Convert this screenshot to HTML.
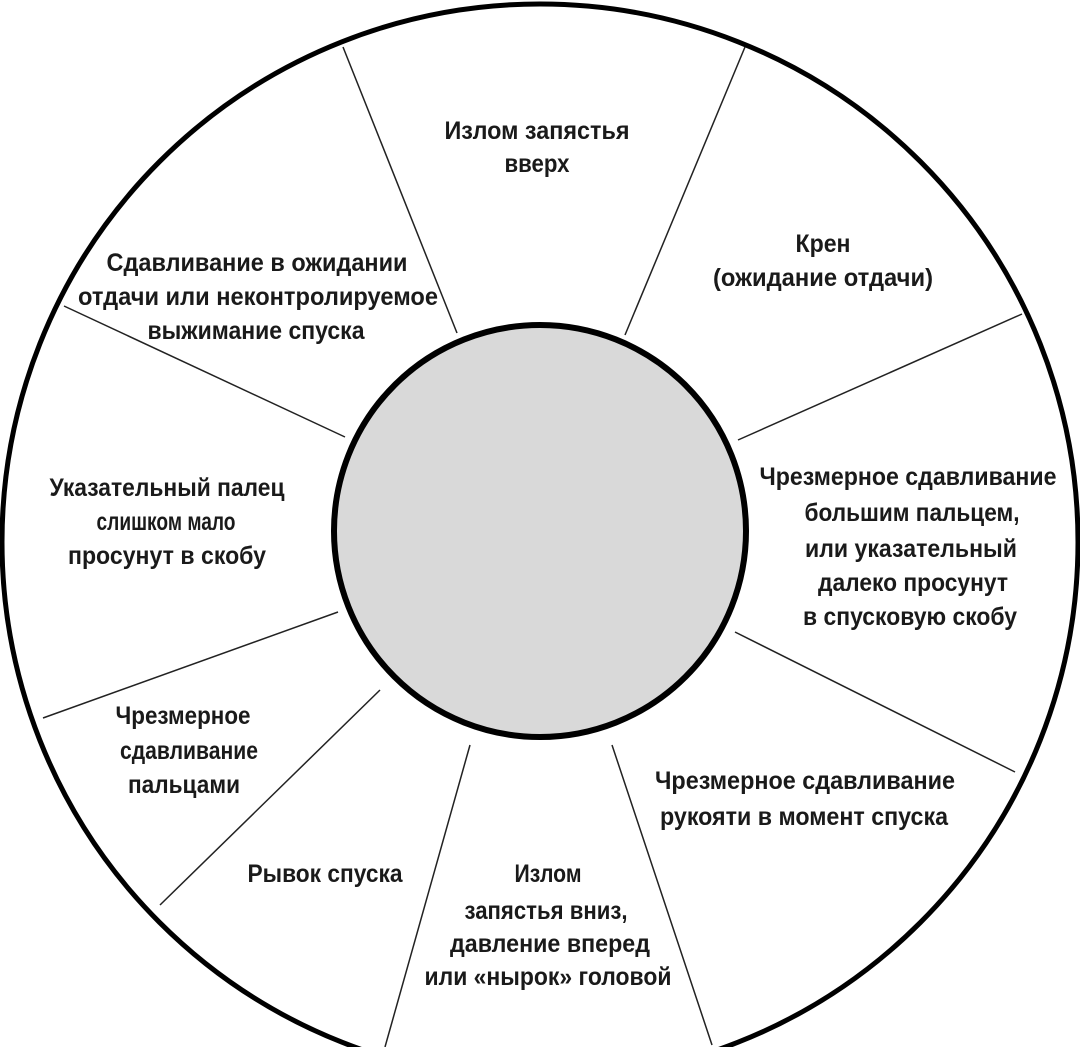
<!DOCTYPE html>
<html><head><meta charset="utf-8"><style>
html,body{margin:0;padding:0;background:#fff;}
svg{display:block;}
text{font-family:"Liberation Sans",Arial,sans-serif;font-weight:bold;font-size:25px;fill:#1a1a1a;text-anchor:middle;}
</style></head><body>
<svg width="1080" height="1047" viewBox="0 0 1080 1047" xmlns="http://www.w3.org/2000/svg">
<rect width="1080" height="1047" fill="#fff"/>
<circle cx="540" cy="542" r="538" fill="#fff" stroke="#000" stroke-width="5"/>
<g stroke="#222" stroke-width="1.5">
<line x1="343" y1="47" x2="457" y2="333"/>
<line x1="745" y1="47" x2="625" y2="335"/>
<line x1="1022" y1="314" x2="738" y2="440"/>
<line x1="1015" y1="772" x2="735" y2="632"/>
<line x1="712" y1="1045" x2="612" y2="745"/>
<line x1="385" y1="1047" x2="470" y2="745"/>
<line x1="160" y1="905" x2="380" y2="690"/>
<line x1="43" y1="718" x2="338" y2="612"/>
<line x1="64" y1="306" x2="345" y2="437"/>
</g>
<circle cx="540" cy="531" r="206" fill="#d9d9d9" stroke="#000" stroke-width="6"/>
<g>
<text x="537" y="139" textLength="185" lengthAdjust="spacingAndGlyphs">Излом запястья</text>
<text x="537" y="172" textLength="65" lengthAdjust="spacingAndGlyphs">вверх</text>
<text x="823" y="252" textLength="55" lengthAdjust="spacingAndGlyphs">Крен</text>
<text x="823" y="286" textLength="220" lengthAdjust="spacingAndGlyphs">(ожидание отдачи)</text>
<text x="908" y="485" textLength="297" lengthAdjust="spacingAndGlyphs">Чрезмерное сдавливание</text>
<text x="912" y="521" textLength="215" lengthAdjust="spacingAndGlyphs">большим пальцем,</text>
<text x="911" y="557" textLength="212" lengthAdjust="spacingAndGlyphs">или указательный</text>
<text x="913" y="591" textLength="190" lengthAdjust="spacingAndGlyphs">далеко просунут</text>
<text x="910" y="625" textLength="214" lengthAdjust="spacingAndGlyphs">в спусковую скобу</text>
<text x="805" y="789" textLength="300" lengthAdjust="spacingAndGlyphs">Чрезмерное сдавливание</text>
<text x="804" y="825" textLength="288" lengthAdjust="spacingAndGlyphs">рукояти в момент спуска</text>
<text x="548" y="882" textLength="67" lengthAdjust="spacingAndGlyphs">Излом</text>
<text x="546" y="919" textLength="163" lengthAdjust="spacingAndGlyphs">запястья вниз,</text>
<text x="550" y="952" textLength="200" lengthAdjust="spacingAndGlyphs">давление вперед</text>
<text x="548" y="985" textLength="247" lengthAdjust="spacingAndGlyphs">или «нырок» головой</text>
<text x="325" y="882" textLength="155" lengthAdjust="spacingAndGlyphs">Рывок спуска</text>
<text x="183" y="724" textLength="135" lengthAdjust="spacingAndGlyphs">Чрезмерное</text>
<text x="189" y="759" textLength="138" lengthAdjust="spacingAndGlyphs">сдавливание</text>
<text x="184" y="793" textLength="112" lengthAdjust="spacingAndGlyphs">пальцами</text>
<text x="167" y="496" textLength="235" lengthAdjust="spacingAndGlyphs">Указательный палец</text>
<text x="166" y="530" textLength="139" lengthAdjust="spacingAndGlyphs">слишком мало</text>
<text x="167" y="564" textLength="198" lengthAdjust="spacingAndGlyphs">просунут в скобу</text>
<text x="257" y="271" textLength="301" lengthAdjust="spacingAndGlyphs">Сдавливание в ожидании</text>
<text x="258" y="305" textLength="360" lengthAdjust="spacingAndGlyphs">отдачи или неконтролируемое</text>
<text x="256" y="339" textLength="217" lengthAdjust="spacingAndGlyphs">выжимание спуска</text>
</g>
</svg>
</body></html>
